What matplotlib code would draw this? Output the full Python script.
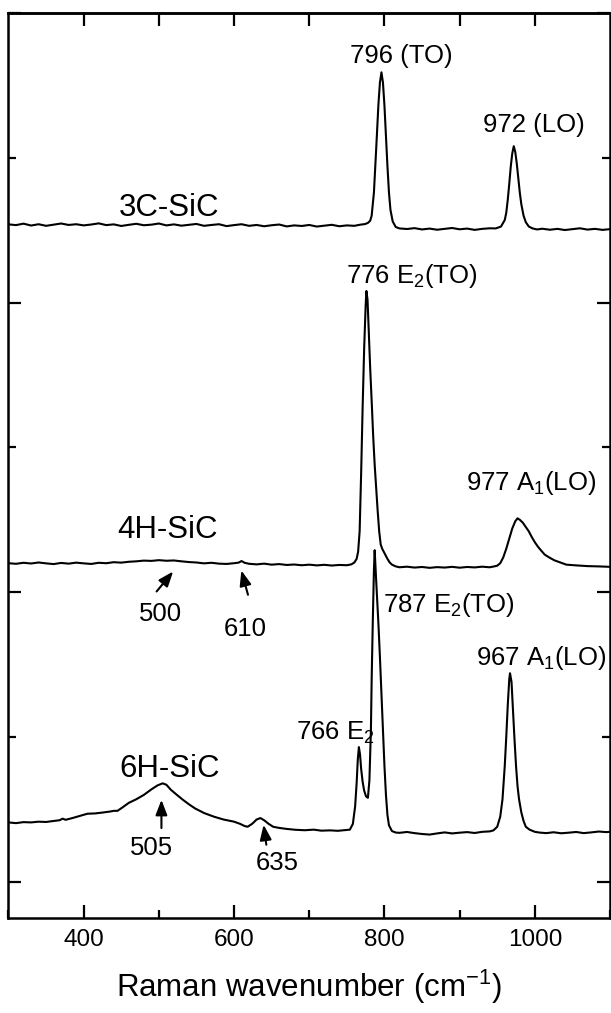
import matplotlib
matplotlib.use("Agg")
import matplotlib.pyplot as plt
from matplotlib.ticker import MultipleLocator

plt.rcParams["font.family"] = ["Liberation Sans", "DejaVu Sans"]
plt.rcParams["mathtext.fontset"] = "custom"
plt.rcParams["mathtext.rm"] = "Liberation Sans"
plt.rcParams["mathtext.it"] = "Liberation Sans:italic"

# Raman spectra, stacked with vertical offsets (arbitrary intensity units)
sic3c_x = [300, 310, 320, 330, 340, 350, 360, 370, 380, 390, 400, 410, 420, 430, 440,
           450, 460, 470, 480, 490, 500, 510, 520, 530, 540, 550, 560, 570, 580, 590,
           600, 610, 620, 630, 640, 650, 660, 670, 680, 690, 700, 710, 720, 730, 740,
           750, 760, 768, 774, 778, 781, 783, 786, 789, 792, 794, 796, 798, 800, 802,
           804, 806, 808, 811, 815, 820, 830, 840, 850, 860, 870, 880, 890, 900, 910,
           920, 930, 940, 948, 955, 960, 962, 964, 966, 968, 970, 972, 974, 976, 978,
           980, 982, 985, 988, 992, 997, 1003, 1010, 1020, 1030, 1040, 1050, 1060, 1070,
           1080, 1090, 1100]
sic3c_y = [4.540, 4.535, 4.545, 4.532, 4.541, 4.530, 4.538, 4.546, 4.536, 4.541, 4.533,
           4.539, 4.547, 4.535, 4.540, 4.529, 4.537, 4.544, 4.534, 4.538, 4.546, 4.533,
           4.540, 4.531, 4.537, 4.543, 4.530, 4.536, 4.541, 4.528, 4.535, 4.541, 4.530,
           4.536, 4.527, 4.534, 4.539, 4.526, 4.533, 4.529, 4.536, 4.525, 4.531, 4.537,
           4.527, 4.533, 4.530, 4.538, 4.542, 4.550, 4.565, 4.60, 4.76, 5.06, 5.37, 5.52,
           5.59, 5.52, 5.36, 5.15, 4.94, 4.76, 4.64, 4.56, 4.522, 4.512, 4.508, 4.514,
           4.505, 4.511, 4.503, 4.509, 4.515, 4.506, 4.511, 4.502, 4.509, 4.513, 4.512,
           4.525, 4.57, 4.62, 4.71, 4.82, 4.94, 5.03, 5.08, 5.04, 4.96, 4.86, 4.76, 4.68,
           4.60, 4.555, 4.525, 4.512, 4.505, 4.510, 4.503, 4.509, 4.501, 4.507, 4.513,
           4.504, 4.509, 4.502, 4.507]

sic4h_x = [300, 310, 320, 330, 340, 350, 360, 370, 380, 390, 400, 410, 420, 430, 440,
           450, 460, 470, 480, 490, 500, 510, 520, 530, 540, 550, 560, 570, 580, 590,
           600, 606, 610, 614, 620, 630, 640, 650, 660, 670, 680, 690, 700, 710, 720,
           730, 740, 750, 756, 760, 763, 765, 767, 769, 771, 773, 775, 776, 777.5, 779,
           781, 783, 785, 787, 789, 791, 793, 795, 797, 799, 801, 804, 807, 810, 815,
           820, 830, 840, 850, 860, 870, 880, 890, 900, 910, 920, 930, 940, 946, 950,
           954, 958, 962, 966, 970, 974, 977, 980, 984, 988, 992, 996, 1000, 1004, 1008,
           1013, 1019, 1026, 1034, 1042, 1055, 1070, 1085, 1100]
sic4h_y = [2.200, 2.196, 2.203, 2.198, 2.205, 2.199, 2.194, 2.202, 2.197, 2.204, 2.199,
           2.195, 2.203, 2.200, 2.207, 2.204, 2.210, 2.213, 2.218, 2.216, 2.221, 2.217,
           2.219, 2.213, 2.208, 2.205, 2.199, 2.203, 2.197, 2.195, 2.200, 2.204, 2.215,
           2.203, 2.196, 2.192, 2.197, 2.190, 2.194, 2.188, 2.191, 2.186, 2.190, 2.185,
           2.189, 2.184, 2.188, 2.186, 2.192, 2.205, 2.23, 2.28, 2.42, 2.82, 3.28, 3.68,
           3.98, 4.08, 4.02, 3.82, 3.55, 3.32, 3.08, 2.88, 2.72, 2.56, 2.42, 2.33, 2.30,
           2.28, 2.26, 2.23, 2.205, 2.19, 2.178, 2.172, 2.176, 2.170, 2.174, 2.168, 2.173,
           2.170, 2.175, 2.169, 2.174, 2.171, 2.176, 2.172, 2.178, 2.183, 2.20, 2.24, 2.30,
           2.37, 2.44, 2.49, 2.51, 2.50, 2.48, 2.45, 2.42, 2.38, 2.345, 2.315, 2.29, 2.26,
           2.24, 2.22, 2.205, 2.19, 2.185, 2.180, 2.178, 2.175]

sic6h_x = [300, 310, 320, 330, 340, 350, 360, 368, 372, 376, 385, 395, 405, 415, 425,
           435, 440, 445, 452, 460, 470, 480, 490, 498, 505, 510, 516, 524, 532, 540,
           548, 560, 573, 586, 600, 608, 614, 618, 624, 630, 635, 640, 646, 652, 660,
           670, 682, 694, 706, 716, 728, 738, 748, 754, 758, 761, 763, 764.5, 766,
           767.5, 769, 771, 773, 775.5, 778, 780, 782, 783, 784.5, 786, 787, 789, 792,
           794, 796, 798, 800, 802, 804, 806, 810, 815, 820, 830, 840, 850, 860, 870,
           880, 890, 900, 910, 920, 930, 940, 945, 950, 954, 957, 960, 962, 964, 966,
           967, 969, 971, 973, 975, 977, 979, 982, 985, 988, 993, 1000, 1006, 1015, 1025,
           1035, 1045, 1055, 1065, 1075, 1085, 1095, 1100]
sic6h_y = [0.410, 0.405, 0.412, 0.410, 0.415, 0.413, 0.420, 0.425, 0.436, 0.428, 0.440,
           0.455, 0.470, 0.472, 0.478, 0.485, 0.490, 0.490, 0.515, 0.545, 0.570, 0.600,
           0.638, 0.665, 0.680, 0.670, 0.635, 0.600, 0.566, 0.535, 0.507, 0.475, 0.450,
           0.430, 0.415, 0.400, 0.385, 0.380, 0.400, 0.430, 0.440, 0.425, 0.400, 0.380,
           0.372, 0.365, 0.359, 0.356, 0.360, 0.353, 0.355, 0.352, 0.357, 0.360, 0.40,
           0.52, 0.68, 0.84, 0.93, 0.88, 0.78, 0.69, 0.63, 0.59, 0.58, 0.70, 1.05, 1.40,
           1.80, 2.15, 2.29, 2.08, 1.78, 1.55, 1.30, 1.05, 0.80, 0.60, 0.46, 0.39, 0.35,
           0.34, 0.338, 0.344, 0.336, 0.330, 0.326, 0.334, 0.341, 0.334, 0.339, 0.343,
           0.337, 0.345, 0.348, 0.355, 0.38, 0.45, 0.57, 0.80, 1.00, 1.22, 1.40, 1.44,
           1.38, 1.18, 0.98, 0.80, 0.66, 0.57, 0.48, 0.42, 0.38, 0.36, 0.345, 0.340,
           0.336, 0.342, 0.335, 0.339, 0.344, 0.336, 0.341, 0.347, 0.343, 0.345]

# sample names: (text, x, y)
sample_labels = [("3C-SiC", 514, 4.60), ("4H-SiC", 511, 2.376), ("6H-SiC", 514, 0.725)]

# peak assignments: (text, x, y, horizontal alignment)
peak_labels = [
    ("796 (TO)", 822, 5.656, "center"),
    ("972 (LO)", 999, 5.18, "center"),
    ("776 E$_2$(TO)", 749, 4.137, "left"),
    ("977 A$_1$(LO)", 995, 2.707, "center"),
    ("787 E$_2$(TO)", 798, 1.865, "left"),
    ("967 A$_1$(LO)", 1008, 1.499, "center"),
    ("766 E$_2$", 682, 0.98, "left"),
    ("500", 502, 1.798, "center"),
    ("610", 615, 1.70, "center"),
    ("505", 490, 0.186, "center"),
    ("635", 657, 0.083, "center"),
]

# weak features pointed at with arrows: (tail x, tail y, tip x, tip y)
arrows = [
    (497, 2.005, 519, 2.143),
    (618.5, 1.982, 609.7, 2.15),
    (503.4, 0.371, 503.4, 0.566),
    (642.9, 0.256, 639.3, 0.394),
]

fig = plt.figure(figsize=(6.11, 10.13), dpi=100)
ax = fig.add_axes([0.0139, 0.0938, 0.9845, 0.8934])

for xs, ys in [(sic3c_x, sic3c_y), (sic4h_x, sic4h_y), (sic6h_x, sic6h_y)]:
    ax.plot(xs, ys, color="black", lw=1.5)

for text, x, y in sample_labels:
    ax.text(x, y, text, fontsize=22.5, ha="center", va="baseline")

for text, x, y, ha in peak_labels:
    ax.text(x, y, text, fontsize=18.5, ha=ha, va="baseline")

for x0, y0, x1, y1 in arrows:
    ax.annotate("", xy=(x1, y1), xytext=(x0, y0),
                arrowprops=dict(arrowstyle="-|>,head_length=0.65,head_width=0.25",
                                color="black", lw=1.5, shrinkA=0, shrinkB=0,
                                mutation_scale=14))

ax.set_xlim(300, 1100)
ax.set_ylim(-0.25, 6.0)
ax.xaxis.set_major_locator(MultipleLocator(200))
ax.xaxis.set_minor_locator(MultipleLocator(100))
ax.set_yticks([0, 2, 4, 6])
ax.set_yticks([1, 3, 5], minor=True)
ax.set_yticklabels([])

ax.tick_params(which="both", direction="in", right=True, top=False, width=1.6,
               labelsize=17.5, pad=8)
ax.tick_params(which="major", length=9.5)
ax.tick_params(which="minor", length=5.5)

top = ax.secondary_xaxis("top")
top.set_xticks([400, 500, 600, 700, 800, 900, 1000])
top.tick_params(direction="in", length=9.5, width=1.6, labeltop=False)
top.spines["top"].set_linewidth(1.8)

for s in ax.spines.values():
    s.set_linewidth(1.8)

ax.set_xlabel("Raman wavenumber (cm$^{-1}$)", fontsize=22.5, labelpad=12)

fig.savefig("out.png", dpi=100)
